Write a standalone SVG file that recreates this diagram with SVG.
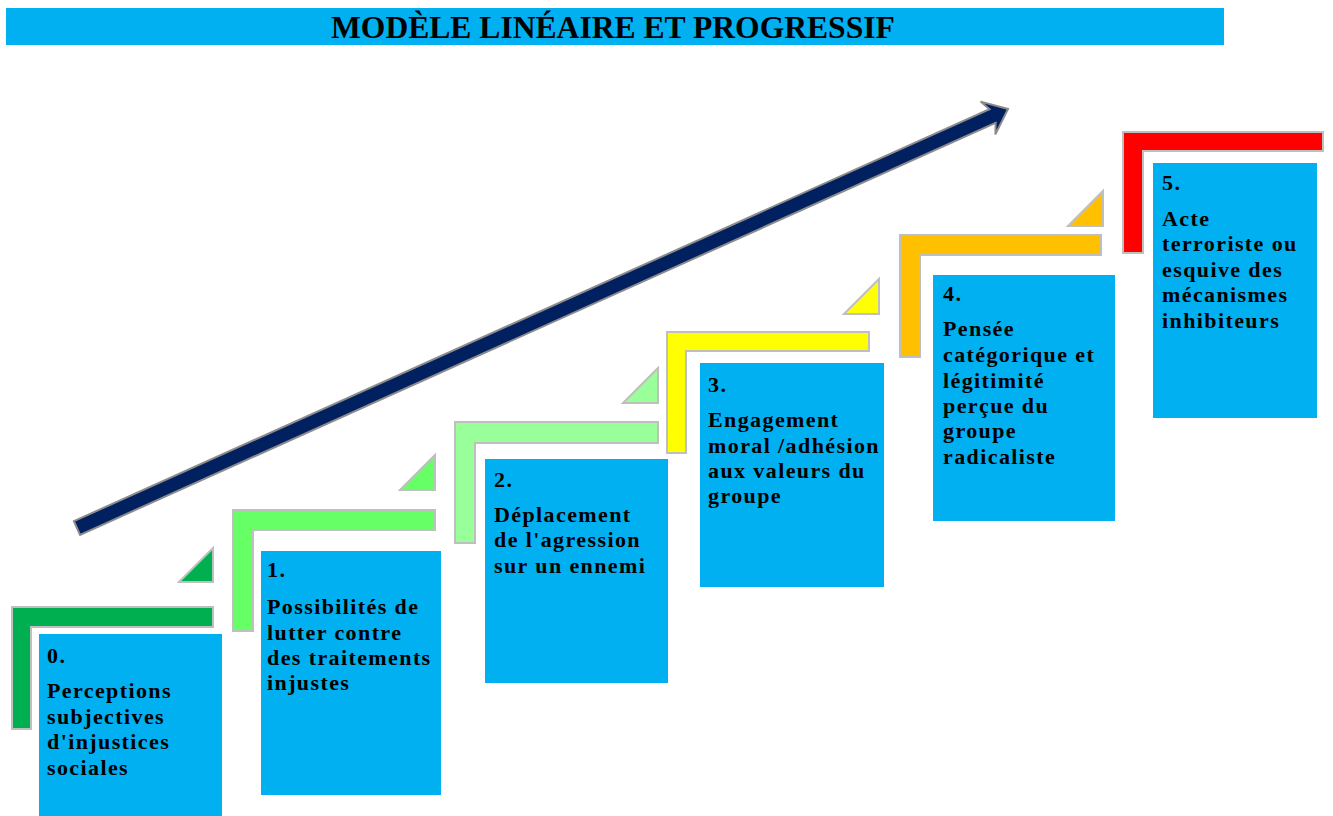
<svg xmlns="http://www.w3.org/2000/svg" width="1333" height="816" viewBox="0 0 1333 816">
<style>
.box{fill:#00b0f0}
.step{stroke:#bfbfbf;stroke-width:2;stroke-linejoin:miter}
.lbl{font-family:"Liberation Serif","Times New Roman",serif;font-weight:bold;font-size:22px;letter-spacing:1.4px;fill:#000}
.title{font-family:"Liberation Serif","Times New Roman",serif;font-weight:bold;font-size:31.6px;fill:#000}
</style>
<rect width="1333" height="816" fill="#fff"/>
<g id="title">
<rect x="6" y="8" width="1218" height="37" fill="#00b0f0"/>
<text class="title" x="331" y="38">MODÈLE LINÉAIRE ET PROGRESSIF</text>
</g>
<g id="connectors">
<g transform="translate(77,528) rotate(-24.23)">
<polygon points="0,-7.5 1004,-7.5 999,-18 1021,0 999,18 1004,7.5 0,7.5" fill="#002060" stroke="#8c8c8c" stroke-width="2" stroke-linejoin="miter"/>
</g>
</g>
<g id="step0">
<path class="step" fill="#00b050" d="M12,607 H213 V627 H31 V729 H12 Z"/>
<polygon class="step" fill="#00b050" points="213,548 213,582 179,582"/>
<rect class="box" x="39" y="634" width="183" height="182"/>
<text class="lbl"><tspan x="47" y="663">0.</tspan><tspan x="47" y="698">Perceptions</tspan><tspan x="47" y="723.5">subjectives</tspan><tspan x="47" y="749">d'injustices</tspan><tspan x="47" y="775">sociales</tspan></text>
</g>
<g id="step1">
<path class="step" fill="#66ff66" d="M233,510 H435 V530 H253 V631 H233 Z"/>
<polygon class="step" fill="#66ff66" points="435,455 435,490 400,490"/>
<rect class="box" x="261" y="551" width="180" height="244"/>
<text class="lbl"><tspan x="267" y="577">1.</tspan><tspan x="267" y="614">Possibilités de</tspan><tspan x="267" y="640">lutter contre</tspan><tspan x="267" y="665">des traitements</tspan><tspan x="267" y="690">injustes</tspan></text>
</g>
<g id="step2">
<path class="step" fill="#99ff99" d="M455,422 H658 V443 H475 V543 H455 Z"/>
<polygon class="step" fill="#99ff99" points="658,368 658,403 623,403"/>
<rect class="box" x="485" y="459" width="183" height="224"/>
<text class="lbl"><tspan x="494" y="487">2.</tspan><tspan x="494" y="522">Déplacement</tspan><tspan x="494" y="547">de l'agression</tspan><tspan x="494" y="573">sur un ennemi</tspan></text>
</g>
<g id="step3">
<path class="step" fill="#ffff00" d="M667,332 H869 V351 H686 V453 H667 Z"/>
<polygon class="step" fill="#ffff00" points="879,279 879,314 844,314"/>
<rect class="box" x="700" y="363" width="184" height="224"/>
<text class="lbl"><tspan x="708" y="392">3.</tspan><tspan x="708" y="427">Engagement</tspan><tspan x="708" y="453">moral /adhésion</tspan><tspan x="708" y="478">aux valeurs du</tspan><tspan x="708" y="503">groupe</tspan></text>
</g>
<g id="step4">
<path class="step" fill="#ffc000" d="M900,235 H1101 V255 H920 V357 H900 Z"/>
<polygon class="step" fill="#ffc000" points="1103,191 1103,226 1068,226"/>
<rect class="box" x="933" y="275" width="182" height="246"/>
<text class="lbl"><tspan x="943" y="301">4.</tspan><tspan x="943" y="336">Pensée</tspan><tspan x="943" y="362">catégorique et</tspan><tspan x="943" y="388">légitimité</tspan><tspan x="943" y="413">perçue du</tspan><tspan x="943" y="438">groupe</tspan><tspan x="943" y="464">radicaliste</tspan></text>
</g>
<g id="step5">
<path class="step" fill="#ff0000" d="M1123,132 H1323 V151 H1143 V253 H1123 Z"/>
<rect class="box" x="1153" y="163" width="164" height="255"/>
<text class="lbl"><tspan x="1162" y="190">5.</tspan><tspan x="1162" y="226">Acte</tspan><tspan x="1162" y="251">terroriste ou</tspan><tspan x="1162" y="277">esquive des</tspan><tspan x="1162" y="302">mécanismes</tspan><tspan x="1162" y="328">inhibiteurs</tspan></text>
</g>
</svg>
